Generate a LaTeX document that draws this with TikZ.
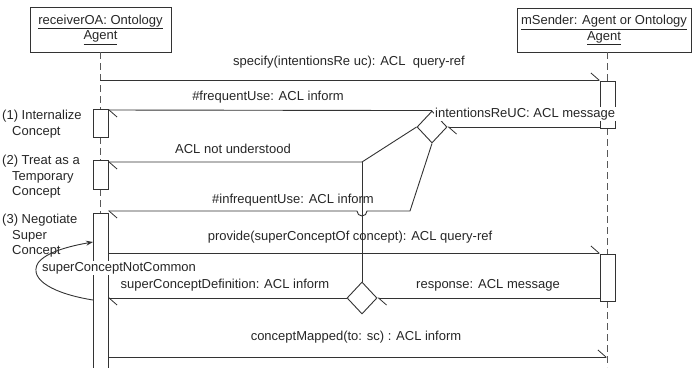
\documentclass[tikz,border=0pt]{standalone}
\usepackage{fontspec}
\setmainfont{Liberation Sans}
\usetikzlibrary{arrows.meta,shapes.geometric}
\begin{document}
\begin{tikzpicture}[x=1pt,y=-1pt,
  every node/.style={font=\fontsize{13}{15.5}\selectfont, text=black!85},
  hdr/.style={draw=black!80, line width=1pt, align=center, inner sep=2pt},
  actbox/.style={draw=black!80, line width=0.9pt, fill=white},
  life/.style={draw=black!65, line width=0.9pt, dash pattern=on 7pt off 4pt},
  msg/.style={draw=black!80, line width=0.9pt, -{Straight Barb[harpoon, length=8pt, width=14pt, line width=0.8pt]}},
  lbl/.style={inner sep=0pt, text height=9.5pt, text depth=2.5pt},
  wlbl/.style={lbl, fill=white, inner sep=1pt},
  note/.style={align=left, inner sep=0pt, anchor=north west},
  dia/.style={draw=black!80, line width=0.9pt, shape=diamond, minimum width=30pt, minimum height=32pt, inner sep=0pt, fill=white},
  conn/.style={draw=black!80, line width=0.9pt}
]
\useasboundingbox (0,0) rectangle (692,367);

% lifeline heads
\node[hdr, minimum width=141pt, minimum height=45pt] (ra) at (100.5,29.5) {\underline{receiverOA: Ontology}\\\underline{Agent}};
\node[hdr, minimum width=174pt, minimum height=44pt] (ms) at (604,30) {\underline{mSender: Agent or Ontology}\\\underline{Agent}};

% lifelines
\coordinate (l0) at (100,52);
\coordinate (l1) at (100,109);
\coordinate (l2) at (100,137);
\coordinate (l3) at (100,160);
\coordinate (l4) at (100,189);
\coordinate (l5) at (100,213);
\draw[life] (l0) -- (l1);
\draw[life] (l2) -- (l3);
\draw[life] (l4) -- (l5);
\coordinate (r0) at (607,52);
\coordinate (r1) at (607,81);
\coordinate (r2) at (607,128);
\coordinate (r3) at (607,254);
\coordinate (r4) at (607,301);
\coordinate (r5) at (607,367);
\draw[life] (r0) -- (r1);
\draw[life] (r2) -- (r3);
\draw[life] (r4) -- (r5);

% activation boxes
\draw[actbox] (93,109) rectangle (108,137);
\draw[actbox] (93,160) rectangle (108,189);
\draw[actbox] (93,372) -- (93,213) -- (108,213) -- (108,372);
\draw[actbox] (600,81) rectangle (615,128);
\draw[actbox] (600,254) rectangle (615,301);

% side notes
\node[note] (n1) at (2,110) {(1) Internalize\\\hspace*{10pt}Concept};
\node[note] (n2) at (2,155) {(2) Treat as a\\\hspace*{10pt}Temporary\\\hspace*{10pt}Concept};
\node[note] (n3) at (2,214) {(3) Negotiate\\\hspace*{10pt}Super\\\hspace*{10pt}Concept};

% diamonds
\node[dia] (d1) at (432,127) {};
\node[dia] (d2) at (362,298) {};

% anchor coordinates
\coordinate (sA) at (100,80);   \coordinate (sB) at (600,80);
\coordinate (fB) at (108,110);
\coordinate (iA) at (600,127);
\coordinate (j1) at (362,162);  \coordinate (nB) at (108,162);
\coordinate (k1) at (410,211);  \coordinate (h1) at (367,211);
\coordinate (iB) at (108,211);
\coordinate (pA) at (108,253);  \coordinate (pB) at (600,253);
\coordinate (rA) at (600,298);
\coordinate (dB) at (108,298);
\coordinate (cA) at (108,357);  \coordinate (cB) at (607,357);
\coordinate (lpA) at (93,300);  \coordinate (lpB) at (93,242);

% messages
\draw[msg] (sA) -- (sB);
\node[lbl] (t1) at (349,62) {specify(intentionsRe uc): ACL\ \ query-ref};

\draw[msg] (d1.north) -- (fB);
\node[lbl] (t2) at (268,97) {\#frequentUse: ACL inform};

\draw[msg] (iA) -- (d1.east);

\draw[msg] (d1.west) -- (j1) -- (nB);
\node[lbl] (t4) at (233,150) {ACL not understood};

\draw[conn] (j1) -- (d2.north);

\draw[msg] (d1.south) -- (k1) -- (h1) arc[start angle=0, end angle=-180, radius=5pt] -- (iB);
\node[lbl] (t5) at (293,200) {\#infrequentUse: ACL inform};

\draw[msg] (pA) -- (pB);
\node[lbl] (t6) at (350,237) {provide(superConceptOf concept): ACL query-ref};

\draw[msg] (rA) -- (d2.east);
\node[lbl] (t7) at (488,285) {response: ACL message};

\draw[msg] (d2.west) -- (dB);
\node[lbl] (t8) at (225,285) {superConceptDefinition: ACL inform};

\draw[msg] (cA) -- (cB);
\node[lbl] (t9) at (356,337) {conceptMapped(to: sc) : ACL inform};

% self loop
\draw[conn, -{Stealth[length=7pt, width=5pt]}] (lpA) .. controls (55,294) and (28,280) .. (38,263) .. controls (46,252) and (70,246) .. (lpB);
\node[wlbl] (t10) at (119,268) {superConceptNotCommon};

% intentions label over box edge
\node[wlbl, anchor=west] (t3) at (434,114) {intentionsReUC: ACL message};
\end{tikzpicture}
\end{document}
